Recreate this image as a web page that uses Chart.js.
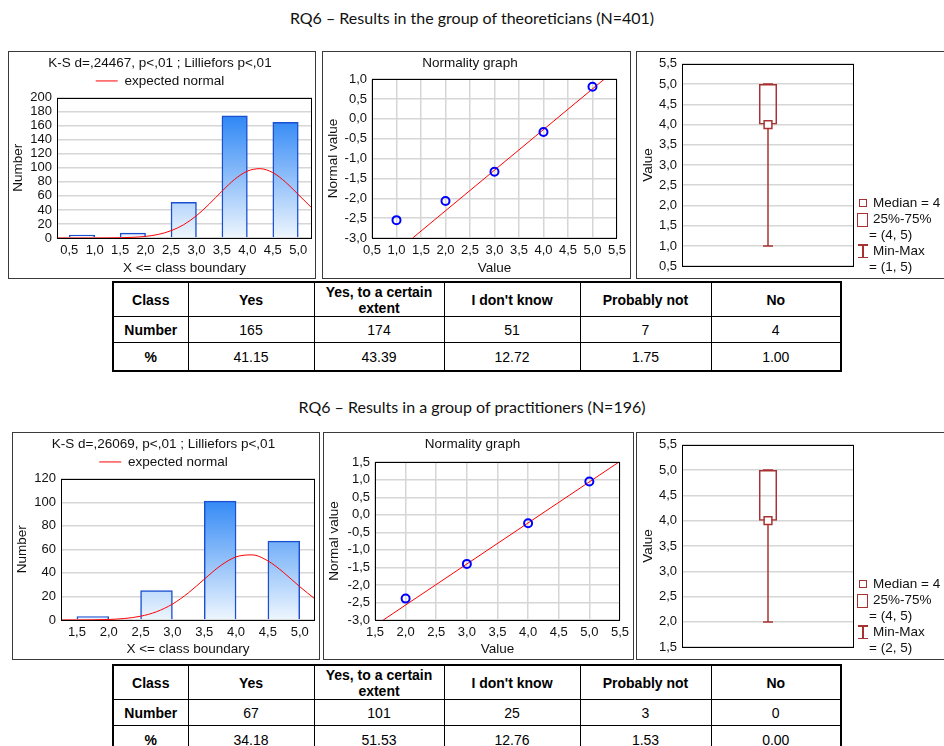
<!DOCTYPE html>
<html><head><meta charset="utf-8">
<script src="https://cdn.jsdelivr.net/npm/chart.js@4.4.1/dist/chart.umd.min.js"></script>
<style>
html,body{margin:0;padding:0;background:#fff;}
body{width:944px;height:746px;position:relative;overflow:hidden;font-family:"Liberation Sans",Arial,sans-serif;color:#111;}
.ptitle{position:absolute;left:0;width:944px;text-align:center;font-family:Lato,"Open Sans",sans-serif;font-size:16px;line-height:20px;color:#111;}
.panel{position:absolute;box-shadow:inset 0 0 0 1px #3a3a3a;}
.panel canvas{position:absolute;left:0;top:0;}
.lg{position:absolute;font-size:13.5px;line-height:16px;color:#111;white-space:nowrap;}
.sym{position:absolute;box-sizing:border-box;border:1.5px solid #a83232;}
.ibeam{position:absolute;width:10px;}
.ibeam i{position:absolute;background:#a83232;}
table.tbl{position:absolute;left:112px;border-collapse:collapse;table-layout:fixed;font-family:"Liberation Sans",Arial,sans-serif;font-size:14px;color:#000;border:2px solid #000;}
.tbl td{border:1px solid #000;text-align:center;padding:0 3px;}
.tbl tr.h td{height:33px;font-weight:bold;line-height:16px;}
.tbl tr.n td{height:25px;}
.tbl tr.p td{height:27px;}
.tbl td.c{font-weight:bold;}
</style>
</head><body>
<div class="ptitle" id="t1" style="top:8px"></div>
<div class="ptitle" id="t2" style="top:397px"></div>

<div class="panel" style="left:8px;top:51px;width:308px;height:228px"><canvas id="h1" width="308" height="228"></canvas></div>
<div class="panel" style="left:322px;top:51px;width:309px;height:228px"><canvas id="n1" width="309" height="228"></canvas></div>
<div class="panel" id="bp1" style="left:636px;top:51px;width:312px;height:228px"><canvas id="b1" width="312" height="228"></canvas></div>

<div class="panel" style="left:12px;top:432px;width:308px;height:228px"><canvas id="h2" width="308" height="228"></canvas></div>
<div class="panel" style="left:323px;top:432px;width:311px;height:228px"><canvas id="n2" width="311" height="228"></canvas></div>
<div class="panel" id="bp2" style="left:636px;top:432px;width:312px;height:228px"><canvas id="b2" width="312" height="228"></canvas></div>

<table class="tbl" id="tab1" style="top:281px"></table>
<table class="tbl" id="tab2" style="top:664px"></table>

<script>
// ================= DATA =================
const tableClasses = ["Yes", "Yes, to a certain extent", "I don't know", "Probably not", "No"];

// --- Group of theoreticians (N=401) ---
const theoTitle = "RQ6 \u2013 Results in the group of theoreticians (N=401)";
const theoKS = "K-S d=,24467, p<,01 ; Lilliefors p<,01";
const theoClassLower = [0.5, 1.5, 2.5, 3.5, 4.5];
const theoClassUpper = [1.0, 2.0, 3.0, 4.0, 5.0];
const theoCounts = [4, 7, 51, 174, 165];
const theoHistXTicks = [0.5, 1.0, 1.5, 2.0, 2.5, 3.0, 3.5, 4.0, 4.5, 5.0];
const theoHistXRange = [0.26, 5.27];
const theoHistYMax = 200;
const theoNormalX = [0.26, 0.5, 0.75, 1.0, 1.25, 1.5, 1.75, 2.0, 2.25, 2.5, 2.75, 3.0, 3.25, 3.5, 3.75, 4.0, 4.25, 4.5, 4.75, 5.0, 5.27];
const theoNormalY = [0, 0, 0, 0.04, 0.12, 0.35, 0.94, 2.3, 5.1, 10.4, 19.0, 31.8, 48.3, 66.6, 83.6, 95.3, 98.8, 93.2, 79.7, 62.0, 42.6];
const theoProbValue = [1, 2, 3, 4, 5];
const theoProbNormal = [-2.55, -2.07, -1.33, -0.33, 0.81];
const theoProbLineX = [1.33, 5.24];
const theoProbLineY = [-3.0, 1.0];
const theoProbXRange = [0.5, 5.5];
const theoProbYRange = [-3.0, 1.0];
const theoBoxStats = [1, 4, 4, 5, 5]; // min, q1, median, q3, max
const theoBoxYRange = [0.5, 5.5];
const theoTableNumber = [165, 174, 51, 7, 4];
const theoTablePct = ["41.15", "43.39", "12.72", "1.75", "1.00"];

// --- Group of practitioners (N=196) ---
const pracTitle = "RQ6 \u2013 Results in a group of practitioners (N=196)";
const pracKS = "K-S d=,26069, p<,01 ; Lilliefors p<,01";
const pracClassLower = [1.5, 2.5, 3.5, 4.5];
const pracClassUpper = [2.0, 3.0, 4.0, 5.0];
const pracCounts = [3, 25, 101, 67];
const pracHistXTicks = [1.5, 2.0, 2.5, 3.0, 3.5, 4.0, 4.5, 5.0];
const pracHistXRange = [1.25, 5.24];
const pracHistYMax = 120;
const pracNormalX = [1.25, 1.5, 1.75, 2.0, 2.25, 2.5, 2.75, 3.0, 3.25, 3.5, 3.75, 4.0, 4.25, 4.5, 4.75, 5.0, 5.24];
const pracNormalY = [0.01, 0.04, 0.14, 0.45, 1.3, 3.2, 7.0, 13.5, 23.0, 34.6, 45.9, 53.6, 55.3, 50.2, 40.2, 28.3, 17.9];
const pracProbValue = [2, 3, 4, 5];
const pracProbNormal = [-2.39, -1.40, -0.24, 0.95];
const pracProbLineX = [1.635, 5.48];
const pracProbLineY = [-3.0, 1.5];
const pracProbXRange = [1.5, 5.5];
const pracProbYRange = [-3.0, 1.5];
const pracBoxStats = [2, 4, 4, 5, 5]; // min, q1, median, q3, max
const pracBoxYRange = [1.5, 5.5];
const pracTableNumber = [67, 101, 25, 3, 0];
const pracTablePct = ["34.18", "51.53", "12.76", "1.53", "0.00"];

// ================= RENDERING =================
const FONT = "'Liberation Sans', Arial, sans-serif";
const TXT = '#111';
const GRID = '#d6d6d6';
const BOXRED = '#a83232';
const FS_TICK = 13, FS_TEXT = 13.5;
Chart.defaults.font.family = FONT;
Chart.defaults.color = TXT;
Chart.defaults.animation = false;
Chart.defaults.events = [];
Chart.defaults.plugins.tooltip.enabled = false;

const comma = v => Number(v).toFixed(1).replace('.', ',');
const frame = {
  id: 'frame',
  afterDatasetsDraw(c) {
    const a = c.chartArea, x = c.ctx;
    x.save(); x.strokeStyle = '#000'; x.lineWidth = 1;
    x.strokeRect(Math.round(a.left) + 0.5, Math.round(a.top) + 0.5, Math.round(a.width) - 1, Math.round(a.height));
    x.restore();
  }
};
function fixedTicks(arr) { return s => { s.ticks = arr.map(v => ({ value: v })); }; }
function stepTicks(lo, hi, step) { const t = []; for (let v = lo; v <= hi + 1e-9; v += step) t.push(+v.toFixed(3)); return t; }

function barGradient(ctx) {
  const ch = ctx.chart, a = ch.chartArea;
  if (!a) return '#7fb8f5';
  const g = ch.ctx.createLinearGradient(0, a.bottom, 0, a.top);
  g.addColorStop(0, '#eef6fe');
  g.addColorStop(1, '#1276f4');
  return g;
}
const tickOpts = (extra) => Object.assign({ padding: 5, autoSkip: false, maxRotation: 0, font: { size: FS_TICK }, color: TXT }, extra || {});
const axTitle = (text, p) => ({ display: true, text: text, font: { size: FS_TEXT }, color: TXT, padding: { top: p, bottom: p } });

function histChart(id, ks, lower, upper, counts, nx, ny, xTicks, xRange, yMax, geo) {
  const bars = counts.map((c, i) => ({ x: (lower[i] + upper[i]) / 2, y: c }));
  const curve = nx.map((x, i) => ({ x: x, y: ny[i] }));
  return new Chart(document.getElementById(id), {
    type: 'bar',
    data: { datasets: [
      { type: 'line', label: 'expected normal', data: curve, borderColor: '#ff0000', borderWidth: 1, pointRadius: 0, tension: 0.4, cubicInterpolationMode: 'monotone', fill: false, order: 0 },
      { type: 'bar', label: 'Number', data: bars, backgroundColor: barGradient, borderColor: '#1a4fd0', borderWidth: 1.5, barPercentage: 1, categoryPercentage: 1, order: 1 }
    ] },
    options: {
      responsive: false,
      layout: { padding: { left: 0, right: geo.pr, top: 0, bottom: 0 } },
      plugins: {
        title: { display: true, text: ks, color: TXT, font: { size: FS_TEXT, weight: 'normal' }, padding: { top: 4, bottom: 0 } },
        legend: { display: true, labels: { filter: it => it.datasetIndex === 0, usePointStyle: true, pointStyle: 'line', pointStyleWidth: 22, font: { size: FS_TEXT }, color: TXT, padding: 3 } }
      },
      scales: {
        x: { type: 'linear', min: xRange[0], max: xRange[1], offset: false, afterBuildTicks: fixedTicks(xTicks),
             afterFit: s => { s.height = geo.xh; },
             grid: { display: false, drawTicks: false }, border: { display: false },
             ticks: tickOpts({ callback: comma }),
             title: axTitle('X <= class boundary', 2.5) },
        y: { min: 0, max: yMax, afterBuildTicks: fixedTicks(stepTicks(0, yMax, 20)),
             afterFit: s => { s.width = geo.yw; },
             grid: { color: GRID, lineWidth: 1.5, drawTicks: false }, border: { display: false },
             ticks: tickOpts(),
             title: axTitle('Number', 2) }
      }
    },
    plugins: [frame]
  });
}

function probChart(id, vals, norms, lx, ly, xr, yr, geo) {
  return new Chart(document.getElementById(id), {
    type: 'scatter',
    data: { datasets: [
      { label: 'points', data: vals.map((v, i) => ({ x: v, y: norms[i] })), pointStyle: 'circle', pointRadius: 4, pointBorderWidth: 2, pointBorderColor: '#0000ff', pointBackgroundColor: 'rgba(0,0,0,0)', order: 0 },
      { label: 'line', data: lx.map((v, i) => ({ x: v, y: ly[i] })), showLine: true, borderColor: '#ff0000', borderWidth: 1, pointRadius: 0, order: 1 }
    ] },
    options: {
      responsive: false,
      layout: { padding: { left: 0, right: geo.pr, top: 0, bottom: 0 } },
      plugins: {
        legend: { display: false },
        title: { display: true, text: 'Normality graph', color: TXT, font: { size: FS_TEXT, weight: 'normal' }, padding: { top: geo.tt, bottom: geo.tb } }
      },
      scales: {
        x: { type: 'linear', min: xr[0], max: xr[1], afterBuildTicks: fixedTicks(stepTicks(xr[0], xr[1], 0.5)),
             afterFit: s => { s.height = geo.xh; },
             grid: { color: GRID, lineWidth: 1.5, drawTicks: false }, border: { display: false },
             ticks: tickOpts({ callback: comma }),
             title: axTitle('Value', 2.5) },
        y: { min: yr[0], max: yr[1], afterBuildTicks: fixedTicks(stepTicks(yr[0], yr[1], 0.5)),
             afterFit: s => { s.width = geo.yw; },
             grid: { color: GRID, lineWidth: 1.5, drawTicks: false }, border: { display: false },
             ticks: tickOpts({ callback: comma }),
             title: axTitle('Normal value', 3) }
      }
    },
    plugins: [frame]
  });
}

function boxChart(id, panelId, stats, yr, geo) {
  const [mn, q1, med, q3, mx] = stats;
  const cat = 'Value';
  new Chart(document.getElementById(id), {
    type: 'bar',
    data: { labels: [cat], datasets: [
      { type: 'line', label: 'Median', data: [{ x: cat, y: med }], showLine: false, pointStyle: 'rect', pointRadius: 5.5, pointBorderWidth: 1.5, pointBorderColor: BOXRED, pointBackgroundColor: '#fff', order: 0 },
      { type: 'line', label: 'caps', data: [{ x: cat, y: mn }, { x: cat, y: mx }], showLine: false, pointStyle: 'line', pointRadius: 5, pointBorderWidth: 1.5, pointBorderColor: BOXRED, order: 1 },
      { type: 'line', label: 'lower whisker', data: [{ x: cat, y: mn }, { x: cat, y: q1 }], borderColor: BOXRED, borderWidth: 1.5, pointRadius: 0, order: 2 },
      { type: 'line', label: 'upper whisker', data: [{ x: cat, y: q3 }, { x: cat, y: mx }], borderColor: BOXRED, borderWidth: 1.5, pointRadius: 0, order: 2 },
      { type: 'bar', label: '25%-75%', data: [[q1, q3]], backgroundColor: 'rgba(0,0,0,0)', borderColor: BOXRED, borderWidth: 1.5, borderSkipped: false, barPercentage: 0.105, categoryPercentage: 1, order: 3 }
    ] },
    options: {
      responsive: false,
      layout: { padding: { left: 0, right: geo.pr, top: geo.pt, bottom: geo.pb } },
      plugins: { legend: { display: false }, title: { display: false } },
      scales: {
        x: { display: false },
        y: { min: yr[0], max: yr[1], afterBuildTicks: fixedTicks(stepTicks(yr[0], yr[1], 0.5)),
             afterFit: s => { s.width = geo.yw; },
             grid: { color: GRID, lineWidth: 1.5, drawTicks: false }, border: { display: false },
             ticks: tickOpts({ callback: comma }),
             title: axTitle('Value', 4) }
      }
    },
    plugins: [frame]
  });
  // legend (HTML)
  const p = document.getElementById(panelId);
  const add = (html) => { p.insertAdjacentHTML('beforeend', html); };
  add(`<div class="sym" style="left:223px;top:148px;width:8px;height:8px"></div>`);
  add(`<div class="lg" style="left:237px;top:144px">Median = ${med}</div>`);
  add(`<div class="sym" style="left:221px;top:162px;width:11px;height:14px"></div>`);
  add(`<div class="lg" style="left:237px;top:160px">25%-75%</div>`);
  add(`<div class="lg" style="left:233px;top:176px">= (${q1}, ${q3})</div>`);
  add(`<div class="ibeam" style="left:222px;top:193px;height:14px"><i style="left:0;top:0;width:10px;height:1.5px"></i><i style="left:4.25px;top:0;width:1.5px;height:14px"></i><i style="left:0;bottom:0;width:10px;height:1.5px"></i></div>`);
  add(`<div class="lg" style="left:237px;top:192px">Min-Max</div>`);
  add(`<div class="lg" style="left:233px;top:208px">= (${mn}, ${mx})</div>`);
}

function buildTable(id, numbers, pcts) {
  const widths = [75, 126, 130, 136, 131, 130];
  let h = '<colgroup>' + widths.map(w => `<col style="width:${w}px">`).join('') + '</colgroup>';
  h += '<tr class="h"><td>Class</td>' + tableClasses.map(c => `<td>${c}</td>`).join('') + '</tr>';
  h += '<tr class="n"><td class="c">Number</td>' + numbers.map(v => `<td>${v}</td>`).join('') + '</tr>';
  h += '<tr class="p"><td class="c">%</td>' + pcts.map(v => `<td>${v}</td>`).join('') + '</tr>';
  const t = document.getElementById(id);
  t.innerHTML = h;
  t.style.width = widths.reduce((a, b) => a + b, 0) + 'px';
}

document.getElementById('t1').textContent = theoTitle;
document.getElementById('t2').textContent = pracTitle;

histChart('h1', theoKS, theoClassLower, theoClassUpper, theoCounts, theoNormalX, theoNormalY, theoHistXTicks, theoHistXRange, theoHistYMax, { pr: 4, xh: 41, yw: 49 });
histChart('h2', pracKS, pracClassLower, pracClassUpper, pracCounts, pracNormalX, pracNormalY, pracHistXTicks, pracHistXRange, pracHistYMax, { pr: 5, xh: 40, yw: 49 });
probChart('n1', theoProbValue, theoProbNormal, theoProbLineX, theoProbLineY, theoProbXRange, theoProbYRange, { pr: 13, xh: 41, yw: 50, tt: 4, tb: 8 });
probChart('n2', pracProbValue, pracProbNormal, pracProbLineX, pracProbLineY, pracProbXRange, pracProbYRange, { pr: 12, xh: 40, yw: 52, tt: 4, tb: 10 });
boxChart('b1', 'bp1', theoBoxStats, theoBoxYRange, { pr: 94, pt: 10, pb: 10, yw: 46 });
boxChart('b2', 'bp2', pracBoxStats, pracBoxYRange, { pr: 94, pt: 11, pb: 10, yw: 46 });
buildTable('tab1', theoTableNumber, theoTablePct);
buildTable('tab2', pracTableNumber, pracTablePct);
</script>
</body></html>
